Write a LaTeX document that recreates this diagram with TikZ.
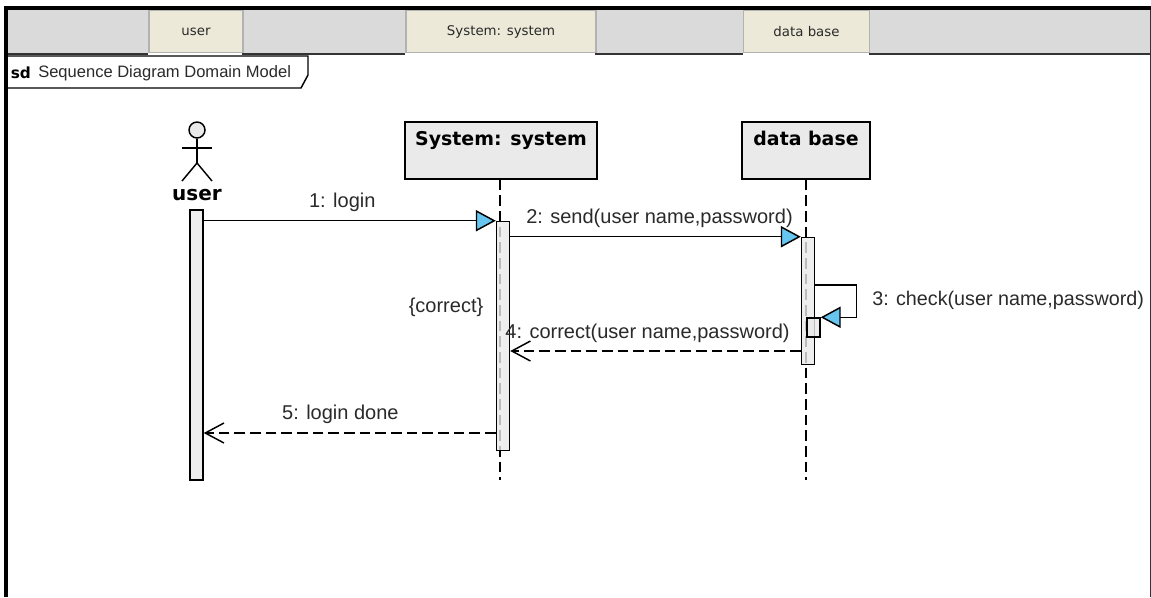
\documentclass[tikz,border=0pt]{standalone}
\usepackage{fontspec}
\setmainfont{Liberation Sans}
\newfontfamily\headfont{DejaVu Sans}
\usetikzlibrary{arrows.meta,positioning}
\definecolor{tabfill}{HTML}{ECE9D8}
\definecolor{barfill}{HTML}{DADADA}
\definecolor{boxfill}{HTML}{EAEAEA}
\definecolor{tipfill}{HTML}{66C6F0}
\definecolor{inkgray}{HTML}{2A2A2A}
\tikzstyle{tab} = [rectangle, minimum height=31.5pt, inner sep=0pt, text centered, fill=tabfill, draw=black!30, line width=0.8pt, text=inkgray, font=\headfont\fontsize{10}{12}\selectfont]
\tikzstyle{head} = [rectangle, minimum height=42.75pt, inner sep=0pt, align=center, fill=boxfill, draw=black, line width=1.1pt, font=\headfont\bfseries\fontsize{14.2}{18.75}\selectfont]
\tikzstyle{bar} = [rectangle, minimum width=9.75pt, inner sep=0pt, fill=boxfill, fill opacity=0.8, draw=black, line width=1.1pt]
\tikzstyle{life} = [line width=1.1pt, dash pattern=on 8pt off 3.75pt]
\tikzstyle{msg} = [-{Triangle[length=15pt,width=16pt,fill=tipfill]}, line width=1.1pt]
\tikzstyle{reply} = [-{Straight Barb[length=14pt,width=15pt]}, line width=1.1pt, dash pattern=on 8pt off 3.75pt]
\tikzstyle{lbl} = [inner sep=0pt, text=inkgray, font=\fontsize{15}{18}\selectfont]
\begin{document}
\begin{tikzpicture}[x=0.75pt, y=-0.75pt, node distance=228.75pt]
  \useasboundingbox (0,0) rectangle (1151,597);
  \fill[white] (0,0) rectangle (1151,597);
  % window edge and tab bar
  \fill[barfill] (8,10) rectangle (1150,53);
  \fill[black!80] (8,53) rectangle (1150,54.5);
  \fill[black] (4,6) rectangle (1151,10);
  \fill[black] (4,6) rectangle (8,597);
  \fill[black!80] (1149.5,10) rectangle (1151,597);
  \node[tab, minimum width=70.5pt](ut) at (196,31.5){user};
  \node[tab, minimum width=142.5pt](st) at (501,31.5){System: system};
  \node[tab, minimum width=94pt](dt) at (806.5,31.5){data base};
  \fill[white] (ut.south west) rectangle ++(94,2.5);
  \fill[white] (st.south west) rectangle ++(190,2.5);
  \fill[white] (dt.south west) rectangle ++(125.5,2.5);
  % frame label
  \draw[line width=1.1pt, fill=white] (8,56) -- (308,56) -- (308,75) -- (301,88) -- (8,88);
  \node[inner sep=0pt, anchor=west, font=\headfont\bfseries\fontsize{11.5}{14}\selectfont](sd) at (10.5,73){sd};
  \node[inner sep=0pt, anchor=west, text=inkgray, font=\fontsize{12.4}{15}\selectfont](fr) at (38,73){Sequence Diagram Domain Model};
  % heads
  \node[head, minimum width=144pt](sh) at (501,150.5){System: system\\\mbox{}};
  \node[head, minimum width=96pt, right of=sh](dh){data base\\\mbox{}};
  % actor
  \coordinate (lifeend) at (0,480);
  \node[circle, draw=black, fill=boxfill, line width=1.1pt, minimum size=12pt, inner sep=0pt](uh) at (197,130){};
  \node[inner sep=0pt, font=\headfont\bfseries\fontsize{15}{18}\selectfont](un) at (197,195){user};
  \coordinate (uw) at (197,163);
  \draw[line width=1.1pt] (uh.south) -- (uw);
  \draw[line width=1.1pt] (182,148) -- (212,148);
  \draw[line width=1.1pt] (182,181) -- (uw) -- (212,181);
  % lifelines
  \draw[life] ([xshift=-0.75pt]sh.south) -- ([xshift=-0.75pt]sh.south |- lifeend);
  \draw[life] (dh.south) -- (dh.south |- lifeend);
  % activations
  \node[bar, minimum height=202.5pt](ua) at (196.5,345){};
  \node[bar, minimum height=171.75pt, below=30.75pt of sh, xshift=1.5pt](sa){};
  \node[bar, minimum height=95.25pt, below=42.75pt of dh, xshift=1.5pt](da){};
  \node[bar, minimum height=14.25pt](ca) at (813.5,327.5){};
  % messages
  \coordinate (m3) at (0,285);
  \coordinate (m4) at (0,351);
  \coordinate (m5) at (0,433);
  \draw[msg](ua.east |- sa.north) to node[lbl, above=6.5pt, xshift=-5.6pt]{1: login} (sa.north west);
  \draw[msg](sa.east |- da.north) to node[lbl, above=6pt, xshift=3pt]{2: send(user name,password)} (da.north west);
  \draw[msg](da.east |- m3) -- ++(41,0) |- (ca.north east);
  \draw[reply](da.west |- m4) to node[lbl, above=5.5pt, xshift=-6pt]{4: correct(user name,password)} (sa.east |- m4);
  \draw[reply](sa.west |- m5) to node[lbl, above=6.5pt, xshift=-7pt]{5: login done} (ua.east |- m5);
  \node[lbl, right=38.5pt of ca.north east, yshift=13pt, font=\fontsize{14.8}{18}\selectfont](ck){3: check(user name,password)};
  \node[lbl](co) at (446,307){\{correct\}};
\end{tikzpicture}
\end{document}
